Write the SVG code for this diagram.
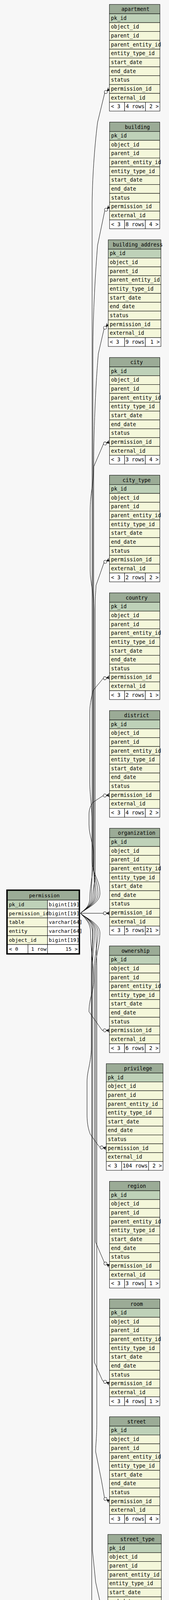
<svg xmlns="http://www.w3.org/2000/svg" width="433" height="4556" viewBox="0 0 433 4556">
<style>
text{font-family:"DejaVu Sans Mono","Liberation Mono",monospace;font-size:13.3px;fill:#000}
.h{fill:#9bab96;stroke:#000;stroke-width:1}
.pk{fill:#bed1b8;stroke:#000;stroke-width:1}
.r{fill:#f4f7da;stroke:#000;stroke-width:1}
.f{fill:#ffffff;stroke:#000;stroke-width:1}
.c{text-anchor:middle}
.e{text-anchor:end}
.edge{fill:none;stroke:#000;stroke-width:1;marker-end:url(#crow)}
.pt text{font-size:13px}
</style>
<defs>
<marker id="crow" markerUnits="userSpaceOnUse" orient="auto" viewBox="-18 -6 19 12" markerWidth="19" markerHeight="12" refX="0" refY="0" overflow="visible">
<circle cx="-12" cy="0" r="4" fill="#f7f7f7" stroke="#000" stroke-width="1"/>
<path d="M-8,0 L0,-4.5 M-8,0 L0,0 M-8,0 L0,4.5" fill="none" stroke="#000" stroke-width="1"/>
<polygon points="-8,0 -1,-3.2 -3,0 -1,3.2" fill="#000"/>
</marker>
</defs>
<rect width="433" height="4556" fill="#f7f7f7"/>

<g id="connectors">
<path class="edge" d="M206,2338 C220,2326 256,2312 256,2288 C256,2250 236,2240 236,2200 L236,520 C237,440 244,360 250,313 L268.3,238 L280.3,227.7"/>
<path class="edge" d="M206,2338 C218,2327 251,2312 251,2290 C251,2255 238,2245 238,2205 L238,900 C238,800 245,690 250,628 L268.3,539.8 L280.7,529"/>
<path class="edge" d="M206,2338 C216,2328 246,2314 246,2292 C246,2260 240,2250 240,2215 L240,1200 C240,1080 247,960 252,905 L266.7,841.5 L277.3,830.3"/>
<path class="edge" d="M206,2338 C215,2329 242,2316 242,2294 C242,2265 241,2255 241,2225 L241,1560 C241,1520 231,1490 231,1460 L231,1310 C231,1260 240,1240 240,1195 L265,1136.7 L280.5,1131.6"/>
<path class="edge" d="M206,2338 C214,2330 238,2318 238,2296 C238,2270 244,2260 244,2230 L244,1540 C244,1520 246,1510 246,1498.7 L266.7,1439.8 L280.5,1432.9"/>
<path class="edge" d="M206,2338 C213,2331 234,2320 234,2298 C234,2270 236,2255 236,2220 L236,2120 C236,2060 230,2040 230,2000 L230,1823 C230,1800 236,1780 238.3,1768 L264,1737 L280.5,1734.2"/>
<path class="edge" d="M206,2338 C212,2332 230,2322 230,2300 C230,2270 240,2230 240,2190 C240,2160 228,2140 228,2110 L228,2084 C228,2070 234,2060 238,2054 L264,2037 L280.5,2035.5"/>
<path class="edge" d="M206,2338 L264,2338 L280.7,2338"/>
<path class="edge" d="M206,2338 C212,2345 232,2360 232,2385 C232,2430 240,2470 240,2510 C240,2540 228,2555 228,2590 L261.7,2637.6 L280.3,2638.1"/>
<path class="edge" d="M206,2338 C213,2346 237,2362 237,2388 C237,2420 234,2440 234,2480 L234,2680 C234,2720 223,2740 223,2770 L223,2853 C223,2880 228,2895 231,2903 L250,2930 L256,2936.7 L272.3,2939.4"/>
<path class="edge" d="M206,2338 C220,2350 256,2364 256,2388 C256,2425 245,2440 245,2480 L245,3180 L268,3233.5 L280.5,3240.7"/>
<path class="edge" d="M206,2338 C218,2349 251,2364 251,2386 C251,2420 242,2440 242,2480 L242,3488 L263,3534.9 L280.5,3542"/>
<path class="edge" d="M206,2338 C216,2348 246,2362 246,2384 C246,2420 248,2440 248,2480 L248,3640 C248,3680 245,3700 245,3716 L260,3790 L268,3836 L280.5,3843.3"/>
<path class="edge" d="M206,2338 C215,2347 242,2360 242,2382 C242,2420 237,2440 237,2480 L237,3970 L245,4050 L264,4135 L276.3,4144.6"/>
<path class="edge" d="M206,2338 C214,2346 238,2358 238,2380 C238,2420 235,2440 235,2480 L235,4200 L245,4291 L267,4434.8 L280,4445.9"/>
</g>

<g id="permission" class="pt">
<rect class="h" x="19.3" y="2280" width="182.7" height="24.3"/>
<rect class="pk" x="19.3" y="2304.3" width="102.4" height="22.75"/>
<rect class="f" x="121.7" y="2304.3" width="80.3" height="22.75"/>
<rect class="r" x="19.3" y="2327.05" width="102.4" height="22.75"/>
<rect class="f" x="121.7" y="2327.05" width="80.3" height="22.75"/>
<rect class="r" x="19.3" y="2349.8" width="102.4" height="22.75"/>
<rect class="f" x="121.7" y="2349.8" width="80.3" height="22.75"/>
<rect class="r" x="19.3" y="2372.55" width="102.4" height="22.75"/>
<rect class="f" x="121.7" y="2372.55" width="80.3" height="22.75"/>
<rect class="r" x="19.3" y="2395.3" width="102.4" height="22.75"/>
<rect class="f" x="121.7" y="2395.3" width="80.3" height="22.75"/>
<rect class="f" x="19.3" y="2418.05" width="52.4" height="22.75"/>
<rect class="f" x="71.7" y="2418.05" width="50" height="22.75"/>
<rect class="f" x="121.7" y="2418.05" width="80.3" height="22.75"/>
<rect x="17.6" y="2278.6" width="186" height="163.6" fill="none" stroke="#000" stroke-width="3"/>
<text class="c" x="113.7" y="2297">permission</text>
<text x="23" y="2319.9">pk_id</text>
<text x="125" y="2319.9">bigint[19]</text>
<text x="23" y="2342.6">permission_id</text>
<text x="125" y="2342.6">bigint[19]</text>
<text x="23" y="2365.4">table</text>
<text x="125" y="2365.4">varchar[64]</text>
<text x="23" y="2388.1">entity</text>
<text x="125" y="2388.1">varchar[64]</text>
<text x="23" y="2410.9">object_id</text>
<text x="125" y="2410.9">bigint[19]</text>
<text x="23" y="2433.6">&lt; 0</text>
<text class="e" x="119" y="2433.6">1 row</text>
<text class="e" x="199" y="2433.6">15 &gt;</text>
</g>

<g id="apartment" transform="translate(280.3,11.3)">
<rect class="h" width="129.4" height="24"/>
<rect class="pk" y="24" width="129.4" height="22.64"/>
<rect class="r" y="46.64" width="129.4" height="22.64"/><rect class="r" y="69.28" width="129.4" height="22.64"/><rect class="r" y="91.92" width="129.4" height="22.64"/><rect class="r" y="114.56" width="129.4" height="22.64"/><rect class="r" y="137.2" width="129.4" height="22.64"/><rect class="r" y="159.84" width="129.4" height="22.64"/><rect class="r" y="182.48" width="129.4" height="22.64"/><rect class="r" y="205.12" width="129.4" height="22.64"/><rect class="r" y="227.76" width="129.4" height="22.64"/>
<rect class="f" y="250.4" width="39" height="22.64"/><rect class="f" x="39" y="250.4" width="53.4" height="22.64"/><rect class="f" x="92.4" y="250.4" width="37" height="22.64"/>
<text class="c" x="66.7" y="17">apartment</text>
<text x="4" y="39.6">pk_id</text><text x="4" y="62.2">object_id</text><text x="4" y="84.9">parent_id</text><text x="4" y="107.5">parent_entity_id</text><text x="4" y="130.2">entity_type_id</text><text x="4" y="152.8">start_date</text><text x="4" y="175.4">end_date</text><text x="4" y="198.1">status</text><text x="4" y="220.7">permission_id</text><text x="4" y="243.4">external_id</text>
<text x="4" y="266">&lt; 3</text><text class="e" x="89.9" y="266">4 rows</text><text class="e" x="126.4" y="266">2 &gt;</text>
</g>

<g id="building" transform="translate(280.7,312.6)">
<rect class="h" width="128.6" height="24"/>
<rect class="pk" y="24" width="128.6" height="22.64"/>
<rect class="r" y="46.64" width="128.6" height="22.64"/><rect class="r" y="69.28" width="128.6" height="22.64"/><rect class="r" y="91.92" width="128.6" height="22.64"/><rect class="r" y="114.56" width="128.6" height="22.64"/><rect class="r" y="137.2" width="128.6" height="22.64"/><rect class="r" y="159.84" width="128.6" height="22.64"/><rect class="r" y="182.48" width="128.6" height="22.64"/><rect class="r" y="205.12" width="128.6" height="22.64"/><rect class="r" y="227.76" width="128.6" height="22.64"/>
<rect class="f" y="250.4" width="38.6" height="22.64"/><rect class="f" x="38.6" y="250.4" width="53" height="22.64"/><rect class="f" x="91.6" y="250.4" width="37" height="22.64"/>
<text class="c" x="71.3" y="17">building</text>
<text x="4" y="39.6">pk_id</text><text x="4" y="62.2">object_id</text><text x="4" y="84.9">parent_id</text><text x="4" y="107.5">parent_entity_id</text><text x="4" y="130.2">entity_type_id</text><text x="4" y="152.8">start_date</text><text x="4" y="175.4">end_date</text><text x="4" y="198.1">status</text><text x="4" y="220.7">permission_id</text><text x="4" y="243.4">external_id</text>
<text x="4" y="266">&lt; 3</text><text class="e" x="89.1" y="266">8 rows</text><text class="e" x="125.6" y="266">4 &gt;</text>
</g>

<g id="building_address" transform="translate(277.3,613.9)">
<rect class="h" width="135" height="24"/>
<rect class="pk" y="24" width="135" height="22.64"/>
<rect class="r" y="46.64" width="135" height="22.64"/><rect class="r" y="69.28" width="135" height="22.64"/><rect class="r" y="91.92" width="135" height="22.64"/><rect class="r" y="114.56" width="135" height="22.64"/><rect class="r" y="137.2" width="135" height="22.64"/><rect class="r" y="159.84" width="135" height="22.64"/><rect class="r" y="182.48" width="135" height="22.64"/><rect class="r" y="205.12" width="135" height="22.64"/><rect class="r" y="227.76" width="135" height="22.64"/>
<rect class="f" y="250.4" width="42" height="22.64"/><rect class="f" x="42" y="250.4" width="53" height="22.64"/><rect class="f" x="95" y="250.4" width="40" height="22.64"/>
<text class="c" x="75.7" y="17">building_address</text>
<text x="4" y="39.6">pk_id</text><text x="4" y="62.2">object_id</text><text x="4" y="84.9">parent_id</text><text x="4" y="107.5">parent_entity_id</text><text x="4" y="130.2">entity_type_id</text><text x="4" y="152.8">start_date</text><text x="4" y="175.4">end_date</text><text x="4" y="198.1">status</text><text x="4" y="220.7">permission_id</text><text x="4" y="243.4">external_id</text>
<text x="4" y="266">&lt; 3</text><text class="e" x="92.5" y="266">9 rows</text><text class="e" x="132" y="266">1 &gt;</text>
</g>

<g id="city" transform="translate(280.5,915.2)">
<rect class="h" width="129" height="24"/>
<rect class="pk" y="24" width="129" height="22.64"/>
<rect class="r" y="46.64" width="129" height="22.64"/><rect class="r" y="69.28" width="129" height="22.64"/><rect class="r" y="91.92" width="129" height="22.64"/><rect class="r" y="114.56" width="129" height="22.64"/><rect class="r" y="137.2" width="129" height="22.64"/><rect class="r" y="159.84" width="129" height="22.64"/><rect class="r" y="182.48" width="129" height="22.64"/><rect class="r" y="205.12" width="129" height="22.64"/><rect class="r" y="227.76" width="129" height="22.64"/>
<rect class="f" y="250.4" width="38.8" height="22.64"/><rect class="f" x="38.8" y="250.4" width="53" height="22.64"/><rect class="f" x="91.8" y="250.4" width="37.2" height="22.64"/>
<text class="c" x="69.5" y="17">city</text>
<text x="4" y="39.6">pk_id</text><text x="4" y="62.2">object_id</text><text x="4" y="84.9">parent_id</text><text x="4" y="107.5">parent_entity_id</text><text x="4" y="130.2">entity_type_id</text><text x="4" y="152.8">start_date</text><text x="4" y="175.4">end_date</text><text x="4" y="198.1">status</text><text x="4" y="220.7">permission_id</text><text x="4" y="243.4">external_id</text>
<text x="4" y="266">&lt; 3</text><text class="e" x="89.3" y="266">3 rows</text><text class="e" x="126" y="266">4 &gt;</text>
</g>

<g id="city_type" transform="translate(280.5,1216.5)">
<rect class="h" width="129" height="24"/>
<rect class="pk" y="24" width="129" height="22.64"/>
<rect class="r" y="46.64" width="129" height="22.64"/><rect class="r" y="69.28" width="129" height="22.64"/><rect class="r" y="91.92" width="129" height="22.64"/><rect class="r" y="114.56" width="129" height="22.64"/><rect class="r" y="137.2" width="129" height="22.64"/><rect class="r" y="159.84" width="129" height="22.64"/><rect class="r" y="182.48" width="129" height="22.64"/><rect class="r" y="205.12" width="129" height="22.64"/><rect class="r" y="227.76" width="129" height="22.64"/>
<rect class="f" y="250.4" width="38.8" height="22.64"/><rect class="f" x="38.8" y="250.4" width="53" height="22.64"/><rect class="f" x="91.8" y="250.4" width="37.2" height="22.64"/>
<text class="c" x="69.5" y="17">city_type</text>
<text x="4" y="39.6">pk_id</text><text x="4" y="62.2">object_id</text><text x="4" y="84.9">parent_id</text><text x="4" y="107.5">parent_entity_id</text><text x="4" y="130.2">entity_type_id</text><text x="4" y="152.8">start_date</text><text x="4" y="175.4">end_date</text><text x="4" y="198.1">status</text><text x="4" y="220.7">permission_id</text><text x="4" y="243.4">external_id</text>
<text x="4" y="266">&lt; 3</text><text class="e" x="89.3" y="266">2 rows</text><text class="e" x="126" y="266">2 &gt;</text>
</g>

<g id="country" transform="translate(280.5,1517.8)">
<rect class="h" width="129" height="24"/>
<rect class="pk" y="24" width="129" height="22.64"/>
<rect class="r" y="46.64" width="129" height="22.64"/><rect class="r" y="69.28" width="129" height="22.64"/><rect class="r" y="91.92" width="129" height="22.64"/><rect class="r" y="114.56" width="129" height="22.64"/><rect class="r" y="137.2" width="129" height="22.64"/><rect class="r" y="159.84" width="129" height="22.64"/><rect class="r" y="182.48" width="129" height="22.64"/><rect class="r" y="205.12" width="129" height="22.64"/><rect class="r" y="227.76" width="129" height="22.64"/>
<rect class="f" y="250.4" width="38.8" height="22.64"/><rect class="f" x="38.8" y="250.4" width="53" height="22.64"/><rect class="f" x="91.8" y="250.4" width="37.2" height="22.64"/>
<text class="c" x="69.5" y="17">country</text>
<text x="4" y="39.6">pk_id</text><text x="4" y="62.2">object_id</text><text x="4" y="84.9">parent_id</text><text x="4" y="107.5">parent_entity_id</text><text x="4" y="130.2">entity_type_id</text><text x="4" y="152.8">start_date</text><text x="4" y="175.4">end_date</text><text x="4" y="198.1">status</text><text x="4" y="220.7">permission_id</text><text x="4" y="243.4">external_id</text>
<text x="4" y="266">&lt; 3</text><text class="e" x="89.3" y="266">2 rows</text><text class="e" x="126" y="266">1 &gt;</text>
</g>

<g id="district" transform="translate(280.5,1819.1)">
<rect class="h" width="129" height="24"/>
<rect class="pk" y="24" width="129" height="22.64"/>
<rect class="r" y="46.64" width="129" height="22.64"/><rect class="r" y="69.28" width="129" height="22.64"/><rect class="r" y="91.92" width="129" height="22.64"/><rect class="r" y="114.56" width="129" height="22.64"/><rect class="r" y="137.2" width="129" height="22.64"/><rect class="r" y="159.84" width="129" height="22.64"/><rect class="r" y="182.48" width="129" height="22.64"/><rect class="r" y="205.12" width="129" height="22.64"/><rect class="r" y="227.76" width="129" height="22.64"/>
<rect class="f" y="250.4" width="38.8" height="22.64"/><rect class="f" x="38.8" y="250.4" width="53" height="22.64"/><rect class="f" x="91.8" y="250.4" width="37.2" height="22.64"/>
<text class="c" x="69.5" y="17">district</text>
<text x="4" y="39.6">pk_id</text><text x="4" y="62.2">object_id</text><text x="4" y="84.9">parent_id</text><text x="4" y="107.5">parent_entity_id</text><text x="4" y="130.2">entity_type_id</text><text x="4" y="152.8">start_date</text><text x="4" y="175.4">end_date</text><text x="4" y="198.1">status</text><text x="4" y="220.7">permission_id</text><text x="4" y="243.4">external_id</text>
<text x="4" y="266">&lt; 3</text><text class="e" x="89.3" y="266">4 rows</text><text class="e" x="126" y="266">2 &gt;</text>
</g>

<g id="organization" transform="translate(280.7,2120.4)">
<rect class="h" width="128.6" height="24"/>
<rect class="pk" y="24" width="128.6" height="22.64"/>
<rect class="r" y="46.64" width="128.6" height="22.64"/><rect class="r" y="69.28" width="128.6" height="22.64"/><rect class="r" y="91.92" width="128.6" height="22.64"/><rect class="r" y="114.56" width="128.6" height="22.64"/><rect class="r" y="137.2" width="128.6" height="22.64"/><rect class="r" y="159.84" width="128.6" height="22.64"/><rect class="r" y="182.48" width="128.6" height="22.64"/><rect class="r" y="205.12" width="128.6" height="22.64"/><rect class="r" y="227.76" width="128.6" height="22.64"/>
<rect class="f" y="250.4" width="38.6" height="22.64"/><rect class="f" x="38.6" y="250.4" width="53" height="22.64"/><rect class="f" x="91.6" y="250.4" width="37" height="22.64"/>
<text class="c" x="69.3" y="17">organization</text>
<text x="4" y="39.6">pk_id</text><text x="4" y="62.2">object_id</text><text x="4" y="84.9">parent_id</text><text x="4" y="107.5">parent_entity_id</text><text x="4" y="130.2">entity_type_id</text><text x="4" y="152.8">start_date</text><text x="4" y="175.4">end_date</text><text x="4" y="198.1">status</text><text x="4" y="220.7">permission_id</text><text x="4" y="243.4">external_id</text>
<text x="4" y="266">&lt; 3</text><text class="e" x="89.1" y="266">5 rows</text><text class="e" x="125.6" y="266">21 &gt;</text>
</g>

<g id="ownership" transform="translate(280.3,2421.7)">
<rect class="h" width="129" height="24"/>
<rect class="pk" y="24" width="129" height="22.64"/>
<rect class="r" y="46.64" width="129" height="22.64"/><rect class="r" y="69.28" width="129" height="22.64"/><rect class="r" y="91.92" width="129" height="22.64"/><rect class="r" y="114.56" width="129" height="22.64"/><rect class="r" y="137.2" width="129" height="22.64"/><rect class="r" y="159.84" width="129" height="22.64"/><rect class="r" y="182.48" width="129" height="22.64"/><rect class="r" y="205.12" width="129" height="22.64"/><rect class="r" y="227.76" width="129" height="22.64"/>
<rect class="f" y="250.4" width="38.8" height="22.64"/><rect class="f" x="38.8" y="250.4" width="53" height="22.64"/><rect class="f" x="91.8" y="250.4" width="37.2" height="22.64"/>
<text class="c" x="66.9" y="17">ownership</text>
<text x="4" y="39.6">pk_id</text><text x="4" y="62.2">object_id</text><text x="4" y="84.9">parent_id</text><text x="4" y="107.5">parent_entity_id</text><text x="4" y="130.2">entity_type_id</text><text x="4" y="152.8">start_date</text><text x="4" y="175.4">end_date</text><text x="4" y="198.1">status</text><text x="4" y="220.7">permission_id</text><text x="4" y="243.4">external_id</text>
<text x="4" y="266">&lt; 3</text><text class="e" x="89.3" y="266">6 rows</text><text class="e" x="126" y="266">2 &gt;</text>
</g>

<g id="privilege" transform="translate(272.3,2723)">
<rect class="h" width="145.4" height="24"/>
<rect class="pk" y="24" width="145.4" height="22.64"/>
<rect class="r" y="46.64" width="145.4" height="22.64"/><rect class="r" y="69.28" width="145.4" height="22.64"/><rect class="r" y="91.92" width="145.4" height="22.64"/><rect class="r" y="114.56" width="145.4" height="22.64"/><rect class="r" y="137.2" width="145.4" height="22.64"/><rect class="r" y="159.84" width="145.4" height="22.64"/><rect class="r" y="182.48" width="145.4" height="22.64"/><rect class="r" y="205.12" width="145.4" height="22.64"/><rect class="r" y="227.76" width="145.4" height="22.64"/>
<rect class="f" y="250.4" width="39.4" height="22.64"/><rect class="f" x="39.4" y="250.4" width="69" height="22.64"/><rect class="f" x="108.4" y="250.4" width="37" height="22.64"/>
<text class="c" x="81.5" y="17">privilege</text>
<text x="4" y="39.6">pk_id</text><text x="4" y="62.2">object_id</text><text x="4" y="84.9">parent_id</text><text x="4" y="107.5">parent_entity_id</text><text x="4" y="130.2">entity_type_id</text><text x="4" y="152.8">start_date</text><text x="4" y="175.4">end_date</text><text x="4" y="198.1">status</text><text x="4" y="220.7">permission_id</text><text x="4" y="243.4">external_id</text>
<text x="4" y="266">&lt; 3</text><text class="e" x="105.9" y="266">104 rows</text><text class="e" x="142.4" y="266">2 &gt;</text>
</g>

<g id="region" transform="translate(280.5,3024.3)">
<rect class="h" width="129" height="24"/>
<rect class="pk" y="24" width="129" height="22.64"/>
<rect class="r" y="46.64" width="129" height="22.64"/><rect class="r" y="69.28" width="129" height="22.64"/><rect class="r" y="91.92" width="129" height="22.64"/><rect class="r" y="114.56" width="129" height="22.64"/><rect class="r" y="137.2" width="129" height="22.64"/><rect class="r" y="159.84" width="129" height="22.64"/><rect class="r" y="182.48" width="129" height="22.64"/><rect class="r" y="205.12" width="129" height="22.64"/><rect class="r" y="227.76" width="129" height="22.64"/>
<rect class="f" y="250.4" width="38.8" height="22.64"/><rect class="f" x="38.8" y="250.4" width="53" height="22.64"/><rect class="f" x="91.8" y="250.4" width="37.2" height="22.64"/>
<text class="c" x="69.5" y="17">region</text>
<text x="4" y="39.6">pk_id</text><text x="4" y="62.2">object_id</text><text x="4" y="84.9">parent_id</text><text x="4" y="107.5">parent_entity_id</text><text x="4" y="130.2">entity_type_id</text><text x="4" y="152.8">start_date</text><text x="4" y="175.4">end_date</text><text x="4" y="198.1">status</text><text x="4" y="220.7">permission_id</text><text x="4" y="243.4">external_id</text>
<text x="4" y="266">&lt; 3</text><text class="e" x="89.3" y="266">3 rows</text><text class="e" x="126" y="266">1 &gt;</text>
</g>

<g id="room" transform="translate(280.5,3325.6)">
<rect class="h" width="129" height="24"/>
<rect class="pk" y="24" width="129" height="22.64"/>
<rect class="r" y="46.64" width="129" height="22.64"/><rect class="r" y="69.28" width="129" height="22.64"/><rect class="r" y="91.92" width="129" height="22.64"/><rect class="r" y="114.56" width="129" height="22.64"/><rect class="r" y="137.2" width="129" height="22.64"/><rect class="r" y="159.84" width="129" height="22.64"/><rect class="r" y="182.48" width="129" height="22.64"/><rect class="r" y="205.12" width="129" height="22.64"/><rect class="r" y="227.76" width="129" height="22.64"/>
<rect class="f" y="250.4" width="38.8" height="22.64"/><rect class="f" x="38.8" y="250.4" width="53" height="22.64"/><rect class="f" x="91.8" y="250.4" width="37.2" height="22.64"/>
<text class="c" x="69.5" y="17">room</text>
<text x="4" y="39.6">pk_id</text><text x="4" y="62.2">object_id</text><text x="4" y="84.9">parent_id</text><text x="4" y="107.5">parent_entity_id</text><text x="4" y="130.2">entity_type_id</text><text x="4" y="152.8">start_date</text><text x="4" y="175.4">end_date</text><text x="4" y="198.1">status</text><text x="4" y="220.7">permission_id</text><text x="4" y="243.4">external_id</text>
<text x="4" y="266">&lt; 3</text><text class="e" x="89.3" y="266">4 rows</text><text class="e" x="126" y="266">1 &gt;</text>
</g>

<g id="street" transform="translate(280.5,3626.9)">
<rect class="h" width="129" height="24"/>
<rect class="pk" y="24" width="129" height="22.64"/>
<rect class="r" y="46.64" width="129" height="22.64"/><rect class="r" y="69.28" width="129" height="22.64"/><rect class="r" y="91.92" width="129" height="22.64"/><rect class="r" y="114.56" width="129" height="22.64"/><rect class="r" y="137.2" width="129" height="22.64"/><rect class="r" y="159.84" width="129" height="22.64"/><rect class="r" y="182.48" width="129" height="22.64"/><rect class="r" y="205.12" width="129" height="22.64"/><rect class="r" y="227.76" width="129" height="22.64"/>
<rect class="f" y="250.4" width="38.8" height="22.64"/><rect class="f" x="38.8" y="250.4" width="53" height="22.64"/><rect class="f" x="91.8" y="250.4" width="37.2" height="22.64"/>
<text class="c" x="69.5" y="17">street</text>
<text x="4" y="39.6">pk_id</text><text x="4" y="62.2">object_id</text><text x="4" y="84.9">parent_id</text><text x="4" y="107.5">parent_entity_id</text><text x="4" y="130.2">entity_type_id</text><text x="4" y="152.8">start_date</text><text x="4" y="175.4">end_date</text><text x="4" y="198.1">status</text><text x="4" y="220.7">permission_id</text><text x="4" y="243.4">external_id</text>
<text x="4" y="266">&lt; 3</text><text class="e" x="89.3" y="266">6 rows</text><text class="e" x="126" y="266">4 &gt;</text>
</g>

<g id="street_type" transform="translate(276.3,3928.2)">
<rect class="h" width="137" height="24"/>
<rect class="pk" y="24" width="137" height="22.64"/>
<rect class="r" y="46.64" width="137" height="22.64"/><rect class="r" y="69.28" width="137" height="22.64"/><rect class="r" y="91.92" width="137" height="22.64"/><rect class="r" y="114.56" width="137" height="22.64"/><rect class="r" y="137.2" width="137" height="22.64"/><rect class="r" y="159.84" width="137" height="22.64"/><rect class="r" y="182.48" width="137" height="22.64"/><rect class="r" y="205.12" width="137" height="22.64"/><rect class="r" y="227.76" width="137" height="22.64"/>
<rect class="f" y="250.4" width="39" height="22.64"/><rect class="f" x="39" y="250.4" width="61.4" height="22.64"/><rect class="f" x="100.4" y="250.4" width="36.6" height="22.64"/>
<text class="c" x="75.7" y="17">street_type</text>
<text x="4" y="39.6">pk_id</text><text x="4" y="62.2">object_id</text><text x="4" y="84.9">parent_id</text><text x="4" y="107.5">parent_entity_id</text><text x="4" y="130.2">entity_type_id</text><text x="4" y="152.8">start_date</text><text x="4" y="175.4">end_date</text><text x="4" y="198.1">status</text><text x="4" y="220.7">permission_id</text><text x="4" y="243.4">external_id</text>
<text x="4" y="266">&lt; 3</text><text class="e" x="97.9" y="266">17 rows</text><text class="e" x="134" y="266">4 &gt;</text>
</g>

<g id="user_info" transform="translate(280,4229.5)">
<rect class="h" width="129.3" height="24"/>
<rect class="pk" y="24" width="129.3" height="22.64"/>
<rect class="r" y="46.64" width="129.3" height="22.64"/><rect class="r" y="69.28" width="129.3" height="22.64"/><rect class="r" y="91.92" width="129.3" height="22.64"/><rect class="r" y="114.56" width="129.3" height="22.64"/><rect class="r" y="137.2" width="129.3" height="22.64"/><rect class="r" y="159.84" width="129.3" height="22.64"/><rect class="r" y="182.48" width="129.3" height="22.64"/><rect class="r" y="205.12" width="129.3" height="22.64"/><rect class="r" y="227.76" width="129.3" height="22.64"/>
<rect class="f" y="250.4" width="39.3" height="22.64"/><rect class="f" x="39.3" y="250.4" width="53" height="22.64"/><rect class="f" x="92.3" y="250.4" width="37" height="22.64"/>
<text class="c" x="69.5" y="17">user_info</text>
<text x="4" y="39.6">pk_id</text><text x="4" y="62.2">object_id</text><text x="4" y="84.9">parent_id</text><text x="4" y="107.5">parent_entity_id</text><text x="4" y="130.2">entity_type_id</text><text x="4" y="152.8">start_date</text><text x="4" y="175.4">end_date</text><text x="4" y="198.1">status</text><text x="4" y="220.7">permission_id</text><text x="4" y="243.4">external_id</text>
<text x="4" y="266">&lt; 3</text><text class="e" x="89.8" y="266">0 rows</text><text class="e" x="126.3" y="266">2 &gt;</text>
</g>

<text x="16.7" y="4542">Generated by SchemaSpy</text>
</svg>
